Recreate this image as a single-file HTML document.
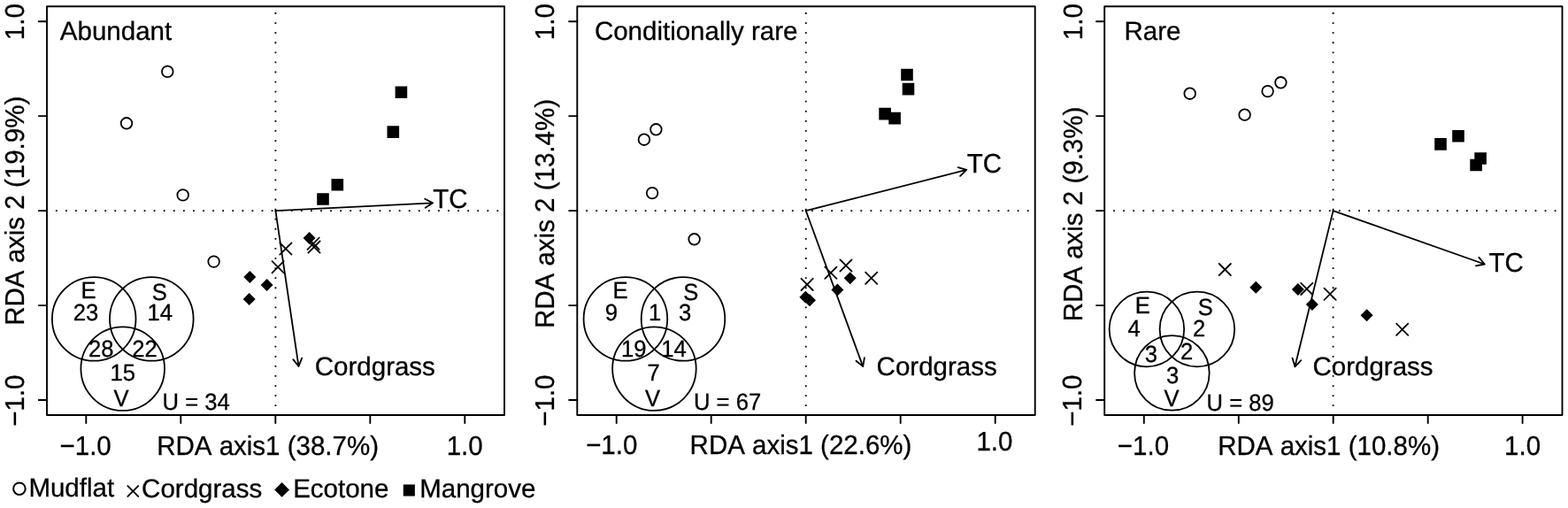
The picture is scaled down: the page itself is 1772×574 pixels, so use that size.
<!DOCTYPE html>
<html><head><meta charset="utf-8"><title>RDA plots</title>
<style>html,body{margin:0;padding:0;background:#fff;}svg{display:block;}text{font-kerning:none;text-rendering:geometricPrecision;}</style>
</head><body>
<svg width="1772" height="574" viewBox="0 0 1772 574">
<rect width="100%" height="100%" fill="#fff"/>
<g stroke="#000" stroke-linecap="round" fill="none">
<line x1="311.4" y1="14.1" x2="311.4" y2="468" stroke-width="1.8" stroke-linecap="butt" stroke-dasharray="1.8 9.28"/>
<line x1="62.9" y1="238.1" x2="569" y2="238.1" stroke-width="1.8" stroke-linecap="butt" stroke-dasharray="1.8 9.28"/>
<rect x="53" y="7.2" width="517" height="461.8" stroke-width="1.9" stroke-linejoin="round"/>
<line x1="43.8" y1="24.2" x2="53" y2="24.2" stroke-width="1.9"/>
<line x1="43.8" y1="131.1" x2="53" y2="131.1" stroke-width="1.9"/>
<line x1="43.8" y1="238.1" x2="53" y2="238.1" stroke-width="1.9"/>
<line x1="43.8" y1="345.1" x2="53" y2="345.1" stroke-width="1.9"/>
<line x1="43.8" y1="452" x2="53" y2="452" stroke-width="1.9"/>
<line x1="97.3" y1="469" x2="97.3" y2="478.1" stroke-width="1.9"/>
<line x1="204.3" y1="469" x2="204.3" y2="478.1" stroke-width="1.9"/>
<line x1="311.3" y1="469" x2="311.3" y2="478.1" stroke-width="1.9"/>
<line x1="418.3" y1="469" x2="418.3" y2="478.1" stroke-width="1.9"/>
<line x1="525.3" y1="469" x2="525.3" y2="478.1" stroke-width="1.9"/>
<circle cx="106.2" cy="360.4" r="47.3" stroke-width="1.8"/>
<circle cx="171.3" cy="360.4" r="47.3" stroke-width="1.8"/>
<circle cx="138.7" cy="416.6" r="47.3" stroke-width="1.8"/>
<path d="M311.4 238.1L489.1 229.3M480.2 224.73L489.1 229.3L480.7 234.72" fill="none" stroke-width="1.8" stroke-linejoin="round"/>
<path d="M311.4 238.1L337.5 414M341.17 404.7L337.5 414L331.28 406.17" fill="none" stroke-width="1.8" stroke-linejoin="round"/>
<circle cx="189.3" cy="80.9" r="6.3" fill="none" stroke-width="1.8"/>
<circle cx="143" cy="139.3" r="6.3" fill="none" stroke-width="1.8"/>
<circle cx="206.7" cy="220.4" r="6.3" fill="none" stroke-width="1.8"/>
<circle cx="241.6" cy="295.6" r="6.3" fill="none" stroke-width="1.8"/>
<path d="M316.3 274.4L329.5 287.6M316.3 287.6L329.5 274.4" fill="none" stroke-width="1.8"/>
<path d="M307.5 295.2L320.7 308.4M307.5 308.4L320.7 295.2" fill="none" stroke-width="1.8"/>
<path d="M347.5 268.6L360.7 281.8M347.5 281.8L360.7 268.6" fill="none" stroke-width="1.8"/>
<path d="M348.4 272.5L361.6 285.7M348.4 285.7L361.6 272.5" fill="none" stroke-width="1.8"/>
<line x1="910.75" y1="14.1" x2="910.75" y2="468" stroke-width="1.8" stroke-linecap="butt" stroke-dasharray="1.8 9.28"/>
<line x1="662.2" y1="238.1" x2="1168.7" y2="238.1" stroke-width="1.8" stroke-linecap="butt" stroke-dasharray="1.8 9.28"/>
<rect x="652.3" y="7.2" width="517.4" height="461.8" stroke-width="1.9" stroke-linejoin="round"/>
<line x1="643.1" y1="24.2" x2="652.3" y2="24.2" stroke-width="1.9"/>
<line x1="643.1" y1="131.1" x2="652.3" y2="131.1" stroke-width="1.9"/>
<line x1="643.1" y1="238.1" x2="652.3" y2="238.1" stroke-width="1.9"/>
<line x1="643.1" y1="345.1" x2="652.3" y2="345.1" stroke-width="1.9"/>
<line x1="643.1" y1="452" x2="652.3" y2="452" stroke-width="1.9"/>
<line x1="696.7" y1="469" x2="696.7" y2="478.1" stroke-width="1.9"/>
<line x1="803.7" y1="469" x2="803.7" y2="478.1" stroke-width="1.9"/>
<line x1="910.7" y1="469" x2="910.7" y2="478.1" stroke-width="1.9"/>
<line x1="1017.7" y1="469" x2="1017.7" y2="478.1" stroke-width="1.9"/>
<line x1="1124.7" y1="469" x2="1124.7" y2="478.1" stroke-width="1.9"/>
<circle cx="706.9" cy="360.4" r="47.3" stroke-width="1.8"/>
<circle cx="772" cy="360.4" r="47.3" stroke-width="1.8"/>
<circle cx="739.4" cy="416.6" r="47.3" stroke-width="1.8"/>
<path d="M910.75 238.1L1092.3 191.9M1082.67 189.19L1092.3 191.9L1085.14 198.88" fill="none" stroke-width="1.8" stroke-linejoin="round"/>
<path d="M910.75 238.1L975.2 414.1M976.92 404.25L975.2 414.1L967.53 407.69" fill="none" stroke-width="1.8" stroke-linejoin="round"/>
<circle cx="741.4" cy="146.3" r="6.3" fill="none" stroke-width="1.8"/>
<circle cx="727.9" cy="157.7" r="6.3" fill="none" stroke-width="1.8"/>
<circle cx="737.1" cy="218.1" r="6.3" fill="none" stroke-width="1.8"/>
<circle cx="784.6" cy="270.3" r="6.3" fill="none" stroke-width="1.8"/>
<path d="M905.5 314.8L918.7 328M905.5 328L918.7 314.8" fill="none" stroke-width="1.8"/>
<path d="M932.3 301.7L945.5 314.9M932.3 314.9L945.5 301.7" fill="none" stroke-width="1.8"/>
<path d="M949.4 293.4L962.6 306.6M949.4 306.6L962.6 293.4" fill="none" stroke-width="1.8"/>
<path d="M978.1 307.7L991.3 320.9M978.1 320.9L991.3 307.7" fill="none" stroke-width="1.8"/>
<line x1="1506.6" y1="14.1" x2="1506.6" y2="468" stroke-width="1.8" stroke-linecap="butt" stroke-dasharray="1.8 9.28"/>
<line x1="1258.1" y1="238.1" x2="1764.5" y2="238.1" stroke-width="1.8" stroke-linecap="butt" stroke-dasharray="1.8 9.28"/>
<rect x="1248.2" y="7.2" width="517.3" height="461.8" stroke-width="1.9" stroke-linejoin="round"/>
<line x1="1239" y1="24.2" x2="1248.2" y2="24.2" stroke-width="1.9"/>
<line x1="1239" y1="131.1" x2="1248.2" y2="131.1" stroke-width="1.9"/>
<line x1="1239" y1="238.1" x2="1248.2" y2="238.1" stroke-width="1.9"/>
<line x1="1239" y1="345.1" x2="1248.2" y2="345.1" stroke-width="1.9"/>
<line x1="1239" y1="452" x2="1248.2" y2="452" stroke-width="1.9"/>
<line x1="1292.8" y1="469" x2="1292.8" y2="478.1" stroke-width="1.9"/>
<line x1="1399.8" y1="469" x2="1399.8" y2="478.1" stroke-width="1.9"/>
<line x1="1506.7" y1="469" x2="1506.7" y2="478.1" stroke-width="1.9"/>
<line x1="1613.7" y1="469" x2="1613.7" y2="478.1" stroke-width="1.9"/>
<line x1="1720.6" y1="469" x2="1720.6" y2="478.1" stroke-width="1.9"/>
<circle cx="1295.9" cy="372" r="42.3" stroke-width="1.8"/>
<circle cx="1352.9" cy="372" r="42.3" stroke-width="1.8"/>
<circle cx="1324.4" cy="421.4" r="42.3" stroke-width="1.8"/>
<path d="M1506.6 238.1L1677.8 298.5M1671.3 290.9L1677.8 298.5L1667.97 300.33" fill="none" stroke-width="1.8" stroke-linejoin="round"/>
<path d="M1506.6 238.1L1463.4 414.3M1470.32 407.08L1463.4 414.3L1460.61 404.7" fill="none" stroke-width="1.8" stroke-linejoin="round"/>
<circle cx="1344.7" cy="105.7" r="6.3" fill="none" stroke-width="1.8"/>
<circle cx="1406.6" cy="129.7" r="6.3" fill="none" stroke-width="1.8"/>
<circle cx="1432.6" cy="103.1" r="6.3" fill="none" stroke-width="1.8"/>
<circle cx="1447.4" cy="93.3" r="6.3" fill="none" stroke-width="1.8"/>
<path d="M1377.7 298L1390.9 311.2M1377.7 311.2L1390.9 298" fill="none" stroke-width="1.8"/>
<path d="M1470.2 319.8L1483.4 333M1470.2 333L1483.4 319.8" fill="none" stroke-width="1.8"/>
<path d="M1496.5 325.7L1509.7 338.9M1496.5 338.9L1509.7 325.7" fill="none" stroke-width="1.8"/>
<path d="M1578.1 365.7L1591.3 378.9M1578.1 378.9L1591.3 365.7" fill="none" stroke-width="1.8"/>
</g>
<g fill="#000" stroke="none">
<path d="M446.6 97.5H460.2V111.1H446.6ZM437.5 142.3H451.1V155.9H437.5ZM374.5 201.9H388.1V215.5H374.5ZM358.2 218.2H371.8V231.8H358.2ZM349.6 261.9L356.6 268.9L349.6 275.9L342.6 268.9ZM282.3 305.9L289.3 312.9L282.3 319.9L275.3 312.9ZM301.6 315.1L308.6 322.1L301.6 329.1L294.6 322.1ZM281.7 331.1L288.7 338.1L281.7 345.1L274.7 338.1Z"/>
<path d="M1018.2 77.7H1031.8V91.3H1018.2ZM1019.7 93.8H1033.3V107.4H1019.7ZM993.3 121.8H1006.9V135.4H993.3ZM1004.3 126.8H1017.9V140.4H1004.3ZM960.7 307.3L967.7 314.3L960.7 321.3L953.7 314.3ZM946.4 320.4L953.4 327.4L946.4 334.4L939.4 327.4ZM910.4 328.7L917.4 335.7L910.4 342.7L903.4 335.7ZM915 332.3L922 339.3L915 346.3L908 339.3Z"/>
<path d="M1621.2 156.1H1634.8V169.7H1621.2ZM1641.2 146.9H1654.8V160.5H1641.2ZM1666.3 172.2H1679.9V185.8H1666.3ZM1661.3 179.7H1674.9V193.3H1661.3ZM1419.3 317.7L1426.3 324.7L1419.3 331.7L1412.3 324.7ZM1466.9 320L1473.9 327L1466.9 334L1459.9 327ZM1482.9 337L1489.9 344L1482.9 351L1475.9 344ZM1544.6 349.3L1551.6 356.3L1544.6 363.3L1537.6 356.3Z"/>
</g>
<g font-family="Liberation Sans, Arial, sans-serif" fill="#000" stroke="#000" stroke-width="0.3" style="font-kerning:none">
<text x="67.84" y="44.9" font-size="29.5">Abundant</text>
<text transform="translate(489.34,234.7) scale(1,1.03)" font-size="29.5">TC</text>
<text x="355.8" y="424.1" font-size="29.5">Cordgrass</text>
<text transform="translate(91.6,336.8) scale(1,1.03)" font-size="25.6">E</text>
<text transform="translate(171.74,339) scale(1,1.03)" font-size="25.6">S</text>
<text transform="translate(82.71,361.8) scale(1,1.03)" font-size="25.6">23</text>
<text transform="translate(166.45,361.8) scale(1,1.03)" font-size="25.6">14</text>
<text transform="translate(100.01,402.6) scale(1,1.03)" font-size="25.6">28</text>
<text transform="translate(149.21,402.6) scale(1,1.03)" font-size="25.6">22</text>
<text transform="translate(124.55,429.7) scale(1,1.03)" font-size="25.6">15</text>
<text transform="translate(128.49,458.9) scale(1,1.03)" font-size="25.6">V</text>
<text transform="translate(183.62,462.8) scale(1,1.03)" font-size="25.6">U = 34</text>
<text transform="translate(67.53,514) scale(1,1.03)" font-size="29.5">−1.0</text>
<text transform="translate(504.65,513.7) scale(1,1.03)" font-size="29.5">1.0</text>
<text transform="translate(177.18,513.6) scale(1,1.03)" font-size="29.5">RDA axis1 (38.7%)</text>
<text transform="translate(27.3,367.82) rotate(-90) scale(1,1.03)" font-size="29.5">RDA axis 2 (19.9%)</text>
<text transform="translate(27.3,45.15) rotate(-90) scale(1,1.03)" font-size="29.5">1.0</text>
<text transform="translate(27,481.77) rotate(-90) scale(1,1.03)" font-size="29.5">−1.0</text>
<text x="671.9" y="44.9" font-size="29.5">Conditionally rare</text>
<text transform="translate(1092.64,195.3) scale(1,1.03)" font-size="29.5">TC</text>
<text x="990.6" y="424" font-size="29.5">Cordgrass</text>
<text transform="translate(692.5,336.8) scale(1,1.03)" font-size="25.6">E</text>
<text transform="translate(772.34,339) scale(1,1.03)" font-size="25.6">S</text>
<text transform="translate(683.7,361.8) scale(1,1.03)" font-size="25.6">9</text>
<text transform="translate(733.05,361.8) scale(1,1.03)" font-size="25.6">1</text>
<text transform="translate(767.02,361.8) scale(1,1.03)" font-size="25.6">3</text>
<text transform="translate(702.05,402.6) scale(1,1.03)" font-size="25.6">19</text>
<text transform="translate(747.15,402.6) scale(1,1.03)" font-size="25.6">14</text>
<text transform="translate(731.49,429.7) scale(1,1.03)" font-size="25.6">7</text>
<text transform="translate(728.99,459) scale(1,1.03)" font-size="25.6">V</text>
<text transform="translate(784.02,462.8) scale(1,1.03)" font-size="25.6">U = 67</text>
<text transform="translate(662.13,513.1) scale(1,1.03)" font-size="29.5">−1.0</text>
<text transform="translate(1103.45,508.9) scale(1,1.03)" font-size="29.5">1.0</text>
<text transform="translate(779.58,512.7) scale(1,1.03)" font-size="29.5">RDA axis1 (22.6%)</text>
<text transform="translate(626.4,371.02) rotate(-90) scale(1,1.03)" font-size="29.5">RDA axis 2 (13.4%)</text>
<text transform="translate(626.4,45.15) rotate(-90) scale(1,1.03)" font-size="29.5">1.0</text>
<text transform="translate(626,481.77) rotate(-90) scale(1,1.03)" font-size="29.5">−1.0</text>
<text x="1270.48" y="44.9" font-size="29.5">Rare</text>
<text transform="translate(1682.44,307) scale(1,1.03)" font-size="29.5">TC</text>
<text x="1483.5" y="424" font-size="29.5">Cordgrass</text>
<text transform="translate(1282.7,354.1) scale(1,1.03)" font-size="25.6">E</text>
<text transform="translate(1353.64,356.3) scale(1,1.03)" font-size="25.6">S</text>
<text transform="translate(1274.61,380) scale(1,1.03)" font-size="25.6">4</text>
<text transform="translate(1348.11,380.3) scale(1,1.03)" font-size="25.6">2</text>
<text transform="translate(1293.73,409.3) scale(1,1.03)" font-size="25.6">3</text>
<text transform="translate(1333.91,406) scale(1,1.03)" font-size="25.6">2</text>
<text transform="translate(1318.12,433.2) scale(1,1.03)" font-size="25.6">3</text>
<text transform="translate(1315.39,459) scale(1,1.03)" font-size="25.6">V</text>
<text transform="translate(1363.62,463.6) scale(1,1.03)" font-size="25.6">U = 89</text>
<text transform="translate(1262.83,514) scale(1,1.03)" font-size="29.5">−1.0</text>
<text transform="translate(1700.05,514) scale(1,1.03)" font-size="29.5">1.0</text>
<text transform="translate(1376.18,513.6) scale(1,1.03)" font-size="29.5">RDA axis1 (10.8%)</text>
<text transform="translate(1222.5,363.32) rotate(-90) scale(1,1.03)" font-size="29.5">RDA axis 2 (9.3%)</text>
<text transform="translate(1222.5,45.15) rotate(-90) scale(1,1.03)" font-size="29.5">1.0</text>
<text transform="translate(1222,481.77) rotate(-90) scale(1,1.03)" font-size="29.5">−1.0</text>
<text x="32.38" y="560.8" font-size="29.5">Mudflat</text>
<text x="160.1" y="561.7" font-size="29.5">Cordgrass</text>
<text x="331.18" y="561.7" font-size="29.5">Ecotone</text>
<text x="474.18" y="561.7" font-size="29.5">Mangrove</text>
</g>
<g stroke="#000" fill="none" stroke-linecap="round">
<circle cx="21.9" cy="552.2" r="6.8" stroke-width="2"/>
<path d="M144.4 549.1L156.2 560.9M144.4 560.9L156.2 549.1" fill="none" stroke-width="1.9"/>
</g>
<g fill="#000">
<path d="M318.6 545L327 553.4L318.6 561.8L310.2 553.4Z"/>
<path d="M455.75 547.45H468.85V560.55H455.75Z"/>
</g>
</svg>
</body></html>
